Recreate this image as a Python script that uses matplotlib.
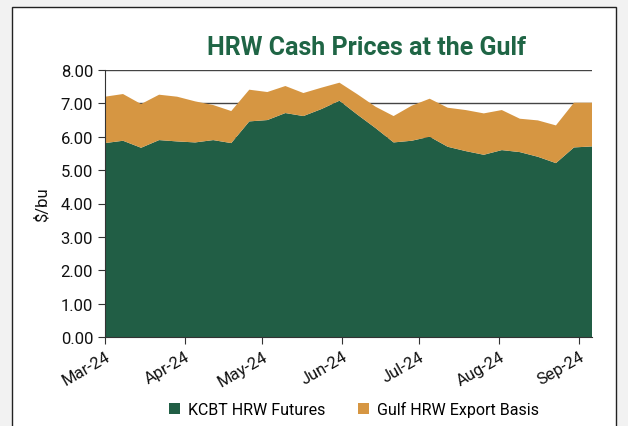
import matplotlib
matplotlib.use("Agg")
import matplotlib.pyplot as plt
import matplotlib.dates as mdates
from matplotlib.patches import Rectangle, Patch
import pandas as pd

plt.rcParams['font.family'] = ['Liberation Sans Narrow', 'Roboto', 'DejaVu Sans']

dates = pd.date_range("2024-03-01", "2024-09-06", freq="7D")
futures = [5.81, 5.88, 5.67, 5.90, 5.86, 5.83, 5.90, 5.81, 6.46, 6.50, 6.71, 6.62, 6.83, 7.08,
           6.66, 6.26, 5.83, 5.88, 6.00, 5.70, 5.57, 5.46, 5.60, 5.54, 5.40, 5.21, 5.68, 5.71]
totals = [7.20, 7.28, 6.98, 7.26, 7.20, 7.06, 6.95, 6.77, 7.41, 7.34, 7.52, 7.31, 7.47, 7.62,
          7.27, 6.90, 6.62, 6.93, 7.14, 6.87, 6.80, 6.70, 6.80, 6.54, 6.49, 6.34, 7.02, 7.02]
basis = [t - f for t, f in zip(totals, futures)]
series_labels = ["KCBT HRW Futures", "Gulf HRW Export Basis"]
title = "HRW Cash Prices at the Gulf"
month_ticks = pd.date_range("2024-03-01", "2024-09-01", freq="MS")

green = "#215E45"
orange = "#D69642"

fig = plt.figure(figsize=(6.28, 4.27), dpi=100, facecolor="#f2f2f2")
panel = Rectangle((12/628, -0.05), 604/628, 1 - 8/427 + 0.05, transform=fig.transFigure,
                  facecolor="white", edgecolor="#222222", linewidth=1.0, zorder=-10)
fig.patches.append(panel)

ax = fig.add_axes([105/628, 1 - 338/427, (592-105)/628, (338-71)/427], zorder=5)
ax.set_facecolor("white")
ax.stackplot(dates, futures, basis, colors=[green, orange], linewidth=0, zorder=2)

ax.set_ylim(0, 8)
ax.set_yticks(range(0, 9))
ax.yaxis.set_major_formatter(matplotlib.ticker.FormatStrFormatter("%.2f"))
ax.set_xlim(dates[0], dates[-1])
ax.set_xticks(month_ticks)
ax.xaxis.set_major_formatter(mdates.DateFormatter("%b-%y"))
ax.grid(axis="y", color="#444444", linewidth=1.0, zorder=1)
ax.set_axisbelow(True)
for s in ["top", "right"]:
    ax.spines[s].set_visible(False)
ax.spines["left"].set_color("#333333")
ax.spines["bottom"].set_color("#333333")
ax.tick_params(axis="both", direction="out", length=5, color="#333333", labelsize=12, labelcolor="#111111")
plt.setp(ax.get_xticklabels(), rotation=30, ha="right", rotation_mode="anchor")
ax.set_ylabel("$/bu", fontsize=12, color="#111111", labelpad=8)

fig.text(367/628, 1 - 48/427, title, ha="center", va="center", fontsize=18, fontweight="bold", color="#1F6545")

handles = [Patch(facecolor=green, edgecolor="none"), Patch(facecolor=orange, edgecolor="none")]
fig.legend(handles, series_labels, loc="center", bbox_to_anchor=(354/628, 1 - 410/427), ncol=2,
           frameon=False, fontsize=11.5, handlelength=0.7, handleheight=0.7, columnspacing=2.0, handletextpad=0.5)

fig.savefig("out.png", dpi=100, facecolor=fig.get_facecolor())
